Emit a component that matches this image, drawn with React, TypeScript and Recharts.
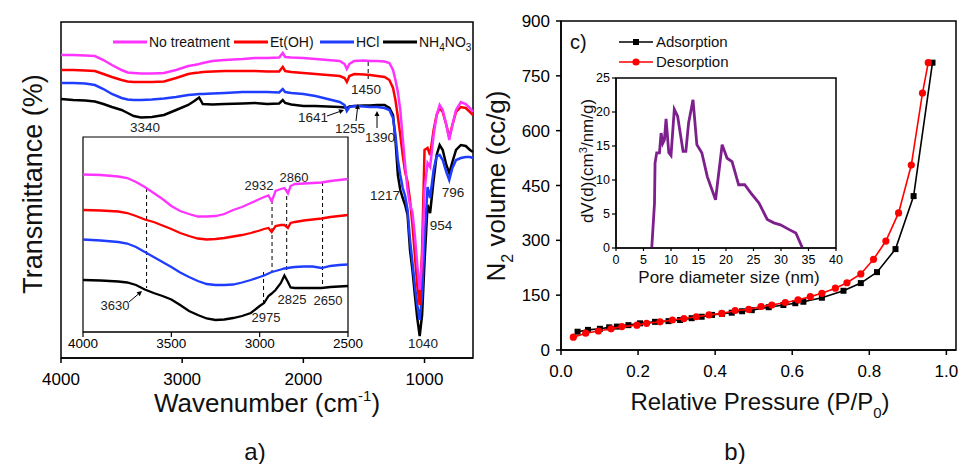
import React from "react";
import {
  LineChart,
  Line,
  XAxis,
  YAxis,
  ReferenceArea,
  ReferenceLine,
  ScatterChart,
  Scatter,
} from "recharts";

const FONT = '"Liberation Sans", Arial, Helvetica, sans-serif';

// ---- a) FTIR spectra (transmittance, arbitrary units, offset per sample)
const wavenumbers = [
  4000, 3900, 3800, 3720, 3650, 3580, 3500, 3450, 3400, 3340, 3250, 3150, 3050, 2950, 2900,
  2860, 2830, 2750, 2650, 2500, 2400, 2300, 2200, 2170, 2150, 2100, 2000, 1900, 1800, 1700,
  1660, 1641, 1620, 1580, 1500, 1450, 1390, 1330, 1290, 1260, 1240, 1220, 1200, 1180, 1160,
  1140, 1120, 1100, 1080, 1060, 1040, 1020, 1000, 975, 954, 925, 900, 875, 850, 820, 796, 770,
  740, 700, 660, 625, 600,
];
const noTreatment = [
  303, 303, 302.5, 302, 298, 293, 288, 285.5, 285, 284.5, 284.5, 285, 288, 292, 293,
  294, 295, 297, 298, 299, 300, 300, 300.5, 305, 301, 300.5, 300, 299, 298, 297,
  294, 289, 294, 297, 297.5, 297, 297, 296.5, 295, 288, 278, 266, 248, 220, 193,
  168, 153, 146, 123, 93, 68, 98, 168, 195, 191, 223, 243, 253, 248, 233, 218, 233,
  248, 256, 254, 250, 246,
];
const etOH = [
  288, 288, 287.5, 287, 284, 281, 278, 276.5, 276, 276, 276, 276.5, 280, 284, 285,
  285.5, 286, 286.5, 287, 287, 287, 286.5, 286.5, 291, 287, 286, 285, 284, 283, 282,
  280, 276, 282, 284, 283.5, 283, 282, 281, 278, 270, 258, 241, 223, 203, 186,
  176, 158, 133, 103, 73, 53, 108, 208, 210, 203, 228, 243, 250, 246, 233, 221, 233,
  246, 251, 250, 246, 243,
];
const hcl = [
  275, 275, 274.5, 273, 269, 264, 260, 258.5, 258, 258, 258.5, 259.5, 261, 263, 263.5,
  264, 264, 264.5, 265, 266, 266, 266, 265.5, 269, 266, 265, 264, 262, 259, 256,
  253, 247, 251, 252, 251.5, 251, 251, 250, 248, 240, 223, 198, 183, 170, 162,
  148, 118, 96, 73, 53, 38, 63, 118, 171, 160, 188, 202, 203, 198, 186, 178, 190,
  198, 200, 201, 201, 200,
];
const nh4no3 = [
  259, 258, 257.5, 256.5, 254, 251, 248, 245, 242, 240.5, 241, 243, 248, 253, 257,
  260.5, 254, 253.5, 254, 254.5, 255, 254, 254.5, 258, 255, 253.5, 252, 252, 251.5, 251,
  250.5, 250, 251.5, 252, 252.5, 252.5, 253, 253, 250, 243, 218, 183, 168, 160, 153,
  143, 108, 88, 63, 40, 22, 43, 96, 153, 145, 178, 203, 213, 208, 193, 185, 196,
  208, 213, 212, 208, 206,
];
const ftirTicks = [4000, 3000, 2000, 1000];

// ---- a) inset, 4000-2500 cm-1
const insetWavenumbers = [
  4000, 3900, 3800, 3750, 3700, 3650, 3600, 3550, 3500, 3450, 3400, 3350, 3300, 3250, 3200,
  3150, 3100, 3050, 3000, 2975, 2950, 2932, 2910, 2880, 2860, 2840, 2825, 2800, 2750, 2700,
  2650, 2600, 2550, 2500,
];
const insetNoTreatment = [
  157.5, 157, 155.5, 154, 150, 145, 139, 133, 126, 121, 118, 115.5, 115.5, 116, 118,
  122, 125, 129, 133, 135, 136.5, 130.5, 141, 143, 144, 138.5, 146, 148, 148.5, 149,
  149.5, 151, 152, 153,
];
const insetEtOH = [
  122, 121.5, 120.5, 119, 116, 112.5, 110, 106.5, 103, 99, 96, 93.5, 92.5, 93, 94,
  95.5, 97, 99, 101.5, 103, 104, 100, 106, 107, 107, 104, 109, 110, 111.5, 112.5,
  113.5, 115, 116, 117,
];
const insetHcl = [
  92.5, 91.5, 90, 88.5, 85, 80, 75, 70, 65, 59.5, 55, 51, 48, 47, 47,
  47.5, 49.5, 52, 55, 56.5, 58.5, 60, 61, 62.5, 63.5, 64, 64.5, 65, 65.5, 65.5,
  64, 66, 67, 67.5,
];
const insetNh4no3 = [
  52, 51.5, 50.5, 49.5, 47, 42.5, 39, 36, 32.5, 27, 21, 17, 13.5, 12, 12.5,
  14, 16, 19, 26, 29, 36, 38.5, 42, 49, 56.5, 50, 44.5, 44, 44, 44,
  44, 45, 45.5, 46,
];
const insetTicks = [4000, 3500, 3000, 2500];
const insetMarkPositions = [3640, 2978, 2930, 2847, 2644];
const insetMarkTop = [144, 60, 132, 143, 150];
const insetMarkBottom = [44, 27, 59, 59, 44];

// ---- b) N2 isotherm
const adsorptionP = [
  0.043, 0.07, 0.101, 0.125, 0.145, 0.175, 0.205, 0.244, 0.279, 0.309, 0.339, 0.365, 0.392,
  0.418, 0.443, 0.47, 0.495, 0.539, 0.577, 0.608, 0.629, 0.677, 0.733, 0.778, 0.82, 0.868,
  0.915, 0.964,
];
const adsorptionV = [
  50, 55, 58, 62, 64, 68, 73, 77, 79, 82, 87, 91, 96, 99, 102, 106, 109, 117, 123, 128, 132,
  143, 162, 183, 213, 276, 421, 786,
];
const desorptionP = [
  0.032, 0.064, 0.097, 0.13, 0.158, 0.197, 0.222, 0.257, 0.289, 0.319, 0.351, 0.384, 0.417,
  0.452, 0.487, 0.519, 0.547, 0.582, 0.615, 0.647, 0.677, 0.712, 0.742, 0.778, 0.811, 0.843,
  0.876, 0.909, 0.938, 0.953,
];
const desorptionV = [
  35, 46, 52, 58, 64, 68, 73, 77, 82, 86, 91, 96, 100, 108, 111, 119, 123, 130, 137, 146, 155,
  169, 184, 208, 248, 298, 375, 506, 703, 786,
];
const pressureTicks = [0, 0.2, 0.4, 0.6, 0.8, 1.0];
const volumeTicks = [0, 150, 300, 450, 600, 750, 900];

// ---- c) pore size distribution
const poreSize = [
  6.5, 7.0, 7.1, 7.4, 7.9, 8.2, 8.5, 8.8, 9.1, 9.6, 10.0, 10.6, 11.2, 12.2, 12.7, 13.2, 14.0,
  14.7, 15.6, 16.6, 18.1, 19.3, 20.2, 21.1, 22.3, 23.4, 24.5, 26.0, 27.5, 28.7, 29.9, 31.5,
  32.7, 33.9,
];
const poreVolume = [
  0, 6.6, 12.5, 14, 14, 16.9, 15.4, 15.9, 19, 14, 13.6, 20.4, 19.4, 14.2, 14.2, 18.4, 21.8,
  15.2, 14, 10.5, 7.1, 15.2, 13.2, 12.7, 9.3, 9.3, 8.1, 6.6, 4.2, 3.7, 3.4, 2.7, 2.2, 0,
];
const poreTicksX = [0, 5, 10, 15, 20, 25, 30, 35, 40];
const poreTicksY = [0, 5, 10, 15, 20, 25];

const MAGENTA = "#ff33ff";
const RED = "#ff0000";
const BLUE = "#1f3dff";
const BLACK = "#000000";
const PURPLE = "#7d1f8c";

const ftirData = wavenumbers.map((w, i) => ({
  w,
  noTreatment: noTreatment[i],
  etOH: etOH[i],
  hcl: hcl[i],
  nh4no3: nh4no3[i],
}));
const insetData = insetWavenumbers.map((w, i) => ({
  w,
  noTreatment: insetNoTreatment[i],
  etOH: insetEtOH[i],
  hcl: insetHcl[i],
  nh4no3: insetNh4no3[i],
}));
const adsorption = adsorptionP.map((p, i) => ({ p, v: adsorptionV[i] }));
const desorption = desorptionP.map((p, i) => ({ p, v: desorptionV[i] }));
const poreData = poreSize.map((d, i) => ({ d, dv: poreVolume[i] }));

const axisStroke = { stroke: "#000", strokeWidth: 1.5 };

const SquareMark = (props: any) => (
  <rect x={props.cx - 3} y={props.cy - 3} width={6} height={6} fill={BLACK} />
);
const CircleMark = (props: any) => <circle cx={props.cx} cy={props.cy} r={3.6} fill={RED} />;

function Arrow({ x1, y1, x2, y2 }: { x1: number; y1: number; x2: number; y2: number }) {
  const a = Math.atan2(y2 - y1, x2 - x1);
  const L = 5;
  const W = 2.5;
  const bx = x2 - L * Math.cos(a);
  const by = y2 - L * Math.sin(a);
  const pts = `${x2},${y2} ${bx + W * Math.sin(a)},${by - W * Math.cos(a)} ${bx - W * Math.sin(a)},${by + W * Math.cos(a)}`;
  return (
    <g>
      <line x1={x1} y1={y1} x2={bx} y2={by} stroke="#000" strokeWidth={1} />
      <polygon points={pts} fill="#000" />
    </g>
  );
}

function Label({ x, y, size = 13.5, children }: any) {
  return (
    <text x={x} y={y} fontSize={size} textAnchor="middle" fill="#222">
      {children}
    </text>
  );
}

function FtirMain() {
  return (
    <LineChart
      width={480}
      height={464}
      data={ftirData}
      margin={{ top: 22, right: 7, bottom: 76, left: 61 }}
    >
      <XAxis
        dataKey="w"
        type="number"
        domain={[600, 4000]}
        reversed
        ticks={ftirTicks}
        height={30}
        tickSize={5}
        tickMargin={10}
        axisLine={axisStroke}
        tickLine={axisStroke}
        tick={{ fontSize: 17, fill: "#000", fontFamily: FONT }}
      />
      <YAxis hide width={0} type="number" domain={[0, 336]} />
      <ReferenceArea x1={600} x2={4000} y1={0} y2={336} fill="none" stroke="#000" strokeWidth={1.5} />
      <ReferenceLine
        segment={[{ x: 1465, y: 296 }, { x: 1465, y: 279 }]}
        stroke="#000"
        strokeDasharray="4 3"
      />
      <Line dataKey="nh4no3" stroke={BLACK} strokeWidth={2.5} dot={false} isAnimationActive={false} />
      <Line dataKey="hcl" stroke={BLUE} strokeWidth={2.5} dot={false} isAnimationActive={false} />
      <Line dataKey="etOH" stroke={RED} strokeWidth={2.5} dot={false} isAnimationActive={false} />
      <Line dataKey="noTreatment" stroke={MAGENTA} strokeWidth={2.5} dot={false} isAnimationActive={false} />
    </LineChart>
  );
}

function FtirInset() {
  return (
    <LineChart
      width={330}
      height={240}
      data={insetData}
      margin={{ top: 7, right: 25, bottom: 8, left: 40 }}
    >
      <XAxis
        dataKey="w"
        type="number"
        domain={[2500, 4000]}
        reversed
        ticks={insetTicks}
        height={30}
        tickSize={5}
        tickMargin={1}
        axisLine={{ stroke: "#000", strokeWidth: 1.2 }}
        tickLine={{ stroke: "#000", strokeWidth: 1.2 }}
        tick={{ fontSize: 13.5, fill: "#000", fontFamily: FONT }}
      />
      <YAxis hide width={0} type="number" domain={[0, 195]} />
      <ReferenceArea x1={2500} x2={4000} y1={0} y2={195} fill="#fff" fillOpacity={1} stroke="#000" strokeWidth={1.2} />
      {insetMarkPositions.map((w, i) => (
        <ReferenceLine
          key={w}
          segment={[{ x: w, y: insetMarkTop[i] }, { x: w, y: insetMarkBottom[i] }]}
          stroke="#000"
          strokeDasharray="4 3"
        />
      ))}
      <Line dataKey="nh4no3" stroke={BLACK} strokeWidth={2.3} dot={false} isAnimationActive={false} />
      <Line dataKey="hcl" stroke={BLUE} strokeWidth={2.3} dot={false} isAnimationActive={false} />
      <Line dataKey="etOH" stroke={RED} strokeWidth={2.3} dot={false} isAnimationActive={false} />
      <Line dataKey="noTreatment" stroke={MAGENTA} strokeWidth={2.3} dot={false} isAnimationActive={false} />
    </LineChart>
  );
}

function Isotherm() {
  return (
    <ScatterChart width={478} height={464} margin={{ top: 21, right: 2, bottom: 84, left: 21 }}>
      <XAxis
        dataKey="p"
        type="number"
        domain={[0, 1.025]}
        ticks={pressureTicks}
        tickFormatter={(v: number) => v.toFixed(1)}
        height={30}
        tickSize={5}
        tickMargin={10}
        axisLine={axisStroke}
        tickLine={axisStroke}
        tick={{ fontSize: 17, fill: "#000", fontFamily: FONT }}
      />
      <YAxis
        dataKey="v"
        type="number"
        domain={[0, 900]}
        ticks={volumeTicks}
        width={60}
        tickSize={5}
        tickMargin={6}
        axisLine={axisStroke}
        tickLine={axisStroke}
        tick={{ fontSize: 17, fill: "#000", fontFamily: FONT }}
      />
      <ReferenceArea x1={0} x2={1.025} y1={0} y2={900} fill="none" stroke="#000" strokeWidth={1.5} />
      <Scatter
        data={adsorption}
        line={{ stroke: BLACK, strokeWidth: 1.6 }}
        lineType="joint"
        shape={SquareMark}
        isAnimationActive={false}
      />
      <Scatter
        data={desorption}
        line={{ stroke: RED, strokeWidth: 1.6 }}
        lineType="joint"
        shape={CircleMark}
        isAnimationActive={false}
      />
    </ScatterChart>
  );
}

function PoreInset() {
  return (
    <LineChart
      width={285}
      height={220}
      data={poreData}
      margin={{ top: 8, right: 9, bottom: 12, left: 16 }}
    >
      <XAxis
        dataKey="d"
        type="number"
        domain={[0, 40]}
        ticks={poreTicksX}
        height={30}
        tickSize={3}
        tickMargin={4}
        axisLine={{ stroke: "#000", strokeWidth: 1.2 }}
        tickLine={{ stroke: "#000", strokeWidth: 1.2 }}
        tick={{ fontSize: 12.5, fill: "#000", fontFamily: FONT }}
      />
      <YAxis
        type="number"
        domain={[0, 25]}
        ticks={poreTicksY}
        width={40}
        tickSize={4}
        tickMargin={2}
        axisLine={{ stroke: "#000", strokeWidth: 1.2 }}
        tickLine={{ stroke: "#000", strokeWidth: 1.2 }}
        tick={{ fontSize: 12.5, fill: "#000", fontFamily: FONT }}
      />
      <ReferenceArea x1={0} x2={40} y1={0} y2={25} fill="#fff" fillOpacity={1} stroke="#000" strokeWidth={1.5} />
      <Line dataKey="dv" stroke={PURPLE} strokeWidth={2.8} dot={false} isAnimationActive={false} />
    </LineChart>
  );
}

function Overlay() {
  const legendLeft = [
    { x: 113, color: MAGENTA, label: <tspan>No treatment</tspan> },
    { x: 234, color: RED, label: <tspan>Et(OH)</tspan> },
    { x: 320, color: BLUE, label: <tspan>HCl</tspan> },
    {
      x: 383,
      color: BLACK,
      label: (
        <>
          <tspan>NH</tspan>
          <tspan fontSize={10} dy={4}>4</tspan>
          <tspan dy={-4}>NO</tspan>
          <tspan fontSize={10} dy={4}>3</tspan>
        </>
      ),
    },
  ];
  return (
    <svg
      width={958}
      height={464}
      style={{ position: "absolute", left: 0, top: 0, pointerEvents: "none" }}
      fontFamily={FONT}
    >
      {/* left legend */}
      {legendLeft.map((it) => (
        <g key={it.x}>
          <line x1={it.x} y1={42} x2={it.x + 34} y2={42} stroke={it.color} strokeWidth={3} />
          <text x={it.x + 36} y={47} fontSize={14} fill="#111">
            {it.label}
          </text>
        </g>
      ))}

      {/* left annotations */}
      <Label x={145} y={132}>3340</Label>
      <Label x={313} y={122}>1641</Label>
      <Arrow x1={327} y1={116} x2={344} y2={110} />
      <Label x={350} y={133}>1255</Label>
      <Arrow x1={356} y1={121} x2={358} y2={104} />
      <Label x={380} y={142}>1390</Label>
      <Arrow x1={377} y1={128} x2={377} y2={111} />
      <Label x={366} y={94}>1450</Label>
      <Label x={385} y={200}>1217</Label>
      <Label x={441} y={230}>954</Label>
      <Label x={453} y={197}>796</Label>
      <Label x={423} y={348}>1040</Label>

      {/* inset annotations */}
      <Label x={259} y={190} size={13}>2932</Label>
      <Label x={294} y={182} size={13}>2860</Label>
      <Label x={266} y={322} size={13}>2975</Label>
      <Label x={292} y={304} size={13}>2825</Label>
      <Label x={328} y={305} size={13}>2650</Label>
      <Label x={115} y={310} size={13}>3630</Label>
      <Arrow x1={129} y1={302} x2={142} y2={291} />

      {/* left titles */}
      <text transform="translate(42,184) rotate(-90)" textAnchor="middle" fontSize={27} fill="#111">
        Transmittance (%)
      </text>
      <text x={267} y={412} textAnchor="middle" fontSize={26} fill="#111">
        Wavenumber (cm<tspan fontSize={15} dy={-11}>-1</tspan>
        <tspan dy={11}>)</tspan>
      </text>
      <text x={255} y={460} textAnchor="middle" fontSize={24} fill="#111">a)</text>

      {/* right titles */}
      <text transform="translate(505,186) rotate(-90)" textAnchor="middle" fontSize={26} fill="#111">
        N<tspan fontSize={16} dy={8}>2</tspan>
        <tspan dy={-8}> volume (cc/g)</tspan>
      </text>
      <text x={760} y={410} textAnchor="middle" fontSize={24} fill="#111">
        Relative Pressure (P/P<tspan fontSize={15} dy={8}>0</tspan>
        <tspan dy={-8}>)</tspan>
      </text>
      <text x={735} y={460} textAnchor="middle" fontSize={24} fill="#111">b)</text>
      <text x={570} y={49} fontSize={20} fill="#111">c)</text>

      {/* right legend */}
      <line x1={619} y1={42} x2={653} y2={42} stroke={BLACK} strokeWidth={1.6} />
      <rect x={633} y={39} width={6} height={6} fill={BLACK} />
      <text x={656} y={47} fontSize={15} fill="#111">Adsorption</text>
      <line x1={619} y1={62} x2={653} y2={62} stroke={RED} strokeWidth={1.6} />
      <circle cx={636} cy={62} r={3.6} fill={RED} />
      <text x={656} y={67} fontSize={15} fill="#111">Desorption</text>

      {/* pore inset titles */}
      <text transform="translate(593,161) rotate(-90)" textAnchor="middle" fontSize={17} fill="#111">
        dV(d)(cm<tspan fontSize={11} dy={-6}>3</tspan>
        <tspan dy={6}>/nm/g)</tspan>
      </text>
      <text x={729} y={283} textAnchor="middle" fontSize={17} fill="#111">
        Pore diameter size (nm)
      </text>
    </svg>
  );
}

export default function App() {
  return (
    <div
      style={{
        position: "absolute",
        left: 0,
        top: 0,
        width: 958,
        height: 464,
        background: "#fff",
        fontFamily: FONT,
        overflow: "hidden",
      }}
    >
      <div style={{ position: "absolute", left: 0, top: 0 }}>
        <FtirMain />
      </div>
      <div style={{ position: "absolute", left: 43, top: 130 }}>
        <FtirInset />
      </div>
      <div style={{ position: "absolute", left: 480, top: 0 }}>
        <Isotherm />
      </div>
      <div style={{ position: "absolute", left: 560, top: 70 }}>
        <PoreInset />
      </div>
      <Overlay />
    </div>
  );
}
